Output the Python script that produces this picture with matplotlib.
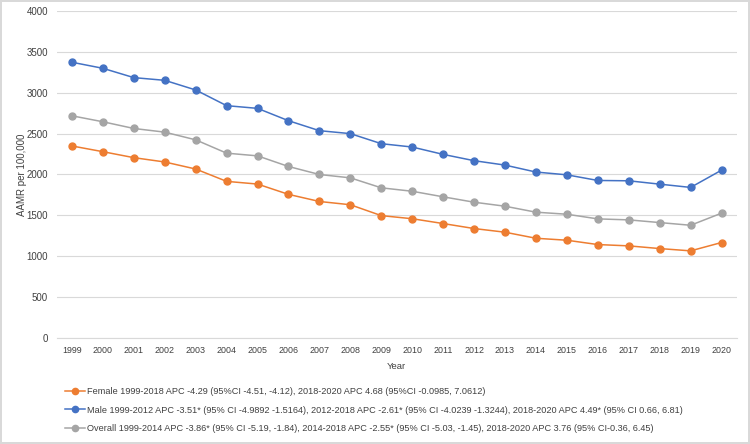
import matplotlib
matplotlib.use("Agg")
import matplotlib.pyplot as plt

plt.rcParams['font.family'] = ['Liberation Sans', 'DejaVu Sans']

years = list(range(1999, 2021))
female = [2349, 2279, 2206, 2153, 2067, 1916, 1883, 1757, 1670, 1630, 1497, 1459,
          1400, 1339, 1294, 1220, 1196, 1143, 1127, 1094, 1066, 1168]
male = [3373, 3299, 3185, 3152, 3034, 2842, 2809, 2658, 2536, 2500, 2377, 2336,
        2246, 2169, 2115, 2030, 1996, 1927, 1923, 1882, 1842, 2053]
overall = [2718, 2645, 2563, 2518, 2424, 2261, 2228, 2098, 2000, 1959, 1837, 1795,
           1727, 1661, 1612, 1539, 1514, 1457, 1445, 1412, 1379, 1527]

labels = [
    "Female 1999-2018 APC -4.29 (95%CI -4.51, -4.12), 2018-2020 APC 4.68 (95%CI -0.0985, 7.0612)",
    "Male 1999-2012 APC -3.51* (95% CI -4.9892 -1.5164), 2012-2018 APC -2.61* (95% CI -4.0239 -1.3244), 2018-2020 APC 4.49* (95% CI 0.66, 6.81)",
    "Overall 1999-2014 APC -3.86* (95% CI -5.19, -1.84), 2014-2018 APC -2.55* (95% CI -5.03, -1.45), 2018-2020 APC 3.76 (95% CI-0.36, 6.45)",
]
colors = ["#ED7D31", "#4472C4", "#A5A5A5"]
txt = "#404040"

fig = plt.figure(figsize=(7.5, 4.44), dpi=100)
fig.patch.set_edgecolor("#D9D9D9")
fig.patch.set_linewidth(1.5)
ax = fig.add_axes([56.5 / 750, 1 - 338 / 444, (737 - 56.5) / 750, (338 - 11) / 444])

for vals, c, lab in zip([female, male, overall], colors, labels):
    ax.plot(years, vals, color=c, lw=1.1, marker="o", ms=5, label=lab)

ax.set_xlim(1998.5, 2020.5)
ax.set_ylim(0, 4000)
ax.set_xticks(years)
ax.set_xticklabels([str(y) for y in years])
ax.set_yticks(range(0, 4001, 500))
ax.grid(axis="y", color="#D9D9D9", lw=0.8)
ax.set_axisbelow(True)
for s in ["top", "right", "left"]:
    ax.spines[s].set_visible(False)
ax.spines["bottom"].set_color("#D9D9D9")
ax.tick_params(length=0, colors=txt)
ax.tick_params(axis="y", labelsize=7, pad=6)
ax.tick_params(axis="x", labelsize=6.4, pad=6)
ax.set_xlabel("Year", fontsize=6.8, color=txt, labelpad=5)
ax.set_ylabel("AAMR per 100,000", fontsize=7, color=txt)
ax.yaxis.set_label_coords(-0.044, 0.5)

leg = fig.legend(loc="upper left", bbox_to_anchor=(65 / 750, 1 - 387 / 444),
                 frameon=False, fontsize=6.6, handlelength=2.2, handletextpad=0.2,
                 labelspacing=1.05, borderpad=0, borderaxespad=0, markerscale=0.9)
for t in leg.get_texts():
    t.set_color(txt)

fig.savefig("out.png", dpi=100)
